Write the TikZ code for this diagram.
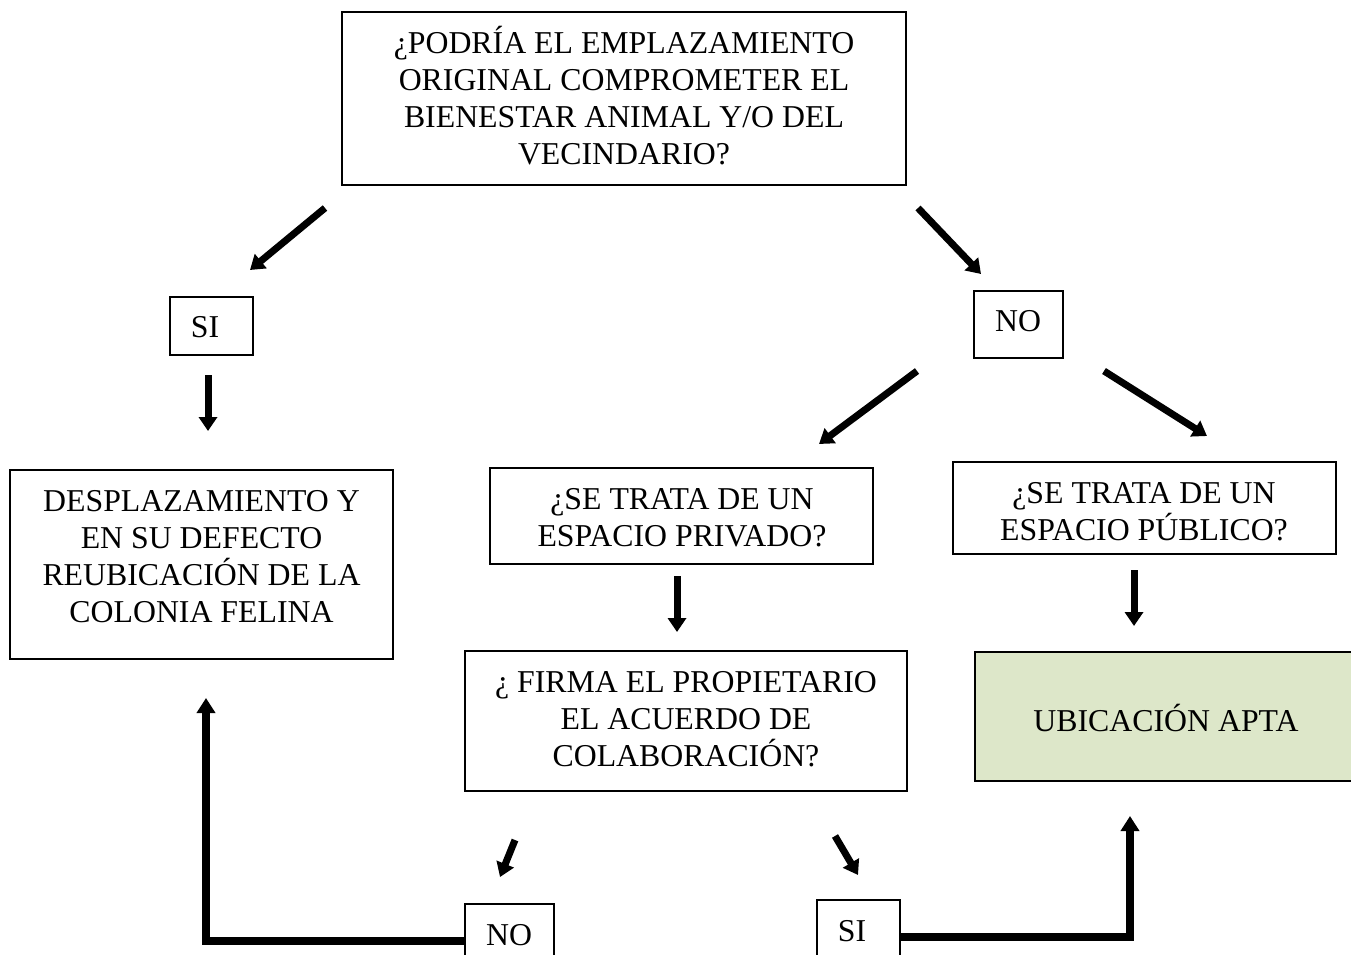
\documentclass[tikz,border=0pt]{standalone}
\usepackage{fontspec}
\setmainfont{Liberation Serif}
\usetikzlibrary{arrows.meta}
\definecolor{aptagreen}{HTML}{DDE7C9}
\tikzset{
  box/.style={draw=black, line width=1.8pt, inner sep=0pt},
  txt/.style={align=center, inner sep=0pt, font=\fontsize{31.8}{37}\selectfont},
  bigarrow/.style={line width=7pt, -{Triangle[width=18pt,length=14pt]}},
  elbowarrow/.style={line width=8pt, -{Triangle[width=18pt,length=15pt]}},
}
\begin{document}
\begin{tikzpicture}[x=1pt,y=-1pt]
\useasboundingbox (0,0) rectangle (1351,955);
\fill[white] (0,0) rectangle (1351,955);

% boxes
\node[box, minimum width=564pt, minimum height=173pt] (q1) at (624,98.5) {};
\node[box, minimum width=83pt, minimum height=58pt] (si1) at (211.5,326) {};
\node[box, minimum width=89pt, minimum height=67pt] (no1) at (1018.5,324.5) {};
\node[box, minimum width=383pt, minimum height=189pt] (desp) at (201.5,564.5) {};
\node[box, minimum width=383pt, minimum height=96pt] (priv) at (681.5,516) {};
\node[box, minimum width=383pt, minimum height=92pt] (pub) at (1144.5,508) {};
\node[box, minimum width=442pt, minimum height=140pt] (firma) at (686,721) {};
\node[box, fill=aptagreen, minimum width=383pt, minimum height=129pt] (apta) at (1166.5,716.5) {};
\node[box, minimum width=89pt, minimum height=62pt] (no2) at (509.5,935) {};
\node[box, minimum width=83pt, minimum height=62pt] (si2) at (858.5,931) {};

% texts
\node[txt] (q1t) at (624,95.5)
  {¿PODRÍA EL EMPLAZAMIENTO\\ORIGINAL COMPROMETER EL\\BIENESTAR ANIMAL Y/O DEL\\VECINDARIO?};
\node[txt] (si1t) at (205,327) {SI};
\node[txt] (no1t) at (1018,321.5) {NO};
\node[txt] (despt) at (201.5,556.5)
  {DESPLAZAMIENTO Y\\EN SU DEFECTO\\REUBICACIÓN DE LA\\COLONIA FELINA};
\node[txt] (privt) at (682,518) {¿SE TRATA DE UN\\ESPACIO PRIVADO?};
\node[txt] (pubt) at (1144,512) {¿SE TRATA DE UN\\ESPACIO PÚBLICO?};
\node[txt] (firmat) at (686,719) {¿ FIRMA EL PROPIETARIO\\EL ACUERDO DE\\COLABORACIÓN?};
\node[txt] (aptat) at (1166,717.5) {UBICACIÓN APTA};
\node[txt] (no2t) at (509,935) {NO};
\node[txt] (si2t) at (852,931) {SI};

% arrow end points
\coordinate (a1s) at (325,208); \coordinate (a1e) at (250,270);
\coordinate (a2s) at (918,208); \coordinate (a2e) at (981,274);
\coordinate (a3s) at (208,375); \coordinate (a3e) at (208,431);
\coordinate (a4s) at (917,371); \coordinate (a4e) at (819,444);
\coordinate (a5s) at (1104,371); \coordinate (a5e) at (1207,436);
\coordinate (a6s) at (677,576); \coordinate (a6e) at (677,632);
\coordinate (a7s) at (1134,570); \coordinate (a7e) at (1134,626);
\coordinate (a8s) at (515,840); \coordinate (a8e) at (500,877);
\coordinate (a9s) at (835,836); \coordinate (a9e) at (858,875);
\coordinate (b1) at (206,941); \coordinate (b1e) at (206,698);
\coordinate (b2) at (1130,937); \coordinate (b2e) at (1130,816);

% arrows
\draw[bigarrow] (a1s) -- (a1e);
\draw[bigarrow] (a2s) -- (a2e);
\draw[bigarrow] (a3s) -- (a3e);
\draw[bigarrow] (a4s) -- (a4e);
\draw[bigarrow] (a5s) -- (a5e);
\draw[bigarrow] (a6s) -- (a6e);
\draw[bigarrow] (a7s) -- (a7e);
\draw[bigarrow] (a8s) -- (a8e);
\draw[bigarrow] (a9s) -- (a9e);
\draw[elbowarrow] (no2.west |- b1) -- (b1) -- (b1e);
\draw[elbowarrow] (si2.east |- b2) -- (b2) -- (b2e);
\end{tikzpicture}
\end{document}
